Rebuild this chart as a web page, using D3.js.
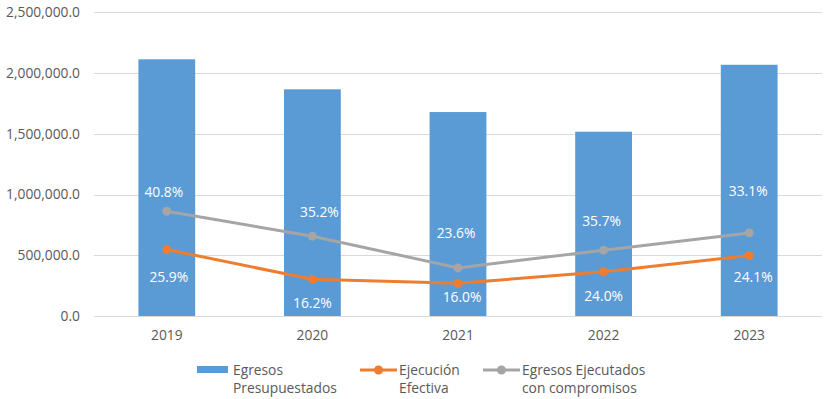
<!DOCTYPE html>
<html><head><meta charset="utf-8">
<script src="https://cdn.jsdelivr.net/npm/d3@7"></script>
<style>
html,body{margin:0;padding:0;background:#fff;}
svg{display:block;font-family:"Open Sans",sans-serif;}
</style></head>
<body><svg id="c" width="824" height="399"></svg>
<script>
const years = ["2019","2020","2021","2022","2023"];
const presupuestados = [2113000, 1866000, 1679000, 1517000, 2068000];
const ejecucionEfectiva = [547000, 302000, 269000, 364000, 498000];
const ejecutadosCompromisos = [862000, 657000, 396000, 542000, 684000];
const pctEfectiva = ["25.9%","16.2%","16.0%","24.0%","24.1%"];
const pctCompromisos = ["40.8%","35.2%","23.6%","35.7%","33.1%"];
const yTicks = [0, 500000, 1000000, 1500000, 2000000, 2500000];
const legendLabels = [["Egresos","Presupuestados"],["Ejecución","Efectiva"],["Egresos Ejecutados","con compromisos"]];

// label layout offsets (pixels, relative to points)
const grayLabelDy = [-19, -24, -35, -29, -42];
const grayLabelDx = [-3, 7, -2, -2, -1];
const orangeLabelDy = [28, 24, 14, 24, 22];
const orangeLabelDx = [2, 0, 4, 0, 4];

const colors = {bar:"#5b9bd5", orange:"#ed7d31", gray:"#a5a5a5", grid:"#d9d9d9", text:"#595959"};
const FS = 13.8;

const svg = d3.select("#c");
const mLeft = 94, mRight = 822, mTop = 12.3, mBottom = 316;

const x = d3.scaleBand().domain(years).range([mLeft, mRight]).paddingInner(0).paddingOuter(0);
const y = d3.scaleLinear().domain([0, 2500000]).range([mBottom, mTop]);
const barW = x.bandwidth() * 0.39;
const cx = d => x(d) + x.bandwidth()/2;

// gridlines
svg.append("g").selectAll("line").data(yTicks).join("line")
  .attr("x1", mLeft).attr("x2", mRight)
  .attr("y1", d => Math.round(y(d)) + 0.5).attr("y2", d => Math.round(y(d)) + 0.5)
  .attr("stroke", colors.grid).attr("stroke-width", 1);

// y axis labels
const fmt = d3.format(",.1f");
svg.append("g").selectAll("text").data(yTicks).join("text")
  .attr("x", 80).attr("y", d => y(d)).attr("dy", "0.35em")
  .attr("text-anchor", "end").attr("font-size", FS).attr("fill", colors.text)
  .text(d => fmt(d));

// bars
svg.append("g").selectAll("rect").data(presupuestados).join("rect")
  .attr("x", (d,i) => cx(years[i]) - barW/2)
  .attr("width", barW)
  .attr("y", d => y(d))
  .attr("height", d => y(0) - y(d))
  .attr("fill", colors.bar);

// x axis labels
svg.append("g").selectAll("text").data(years).join("text")
  .attr("x", d => cx(d)).attr("y", 335).attr("dy", "0.35em")
  .attr("text-anchor", "middle").attr("font-size", FS).attr("fill", colors.text)
  .text(d => d);

const line = d3.line().x((d,i) => cx(years[i])).y(d => y(d));

function series(vals, col) {
  const g = svg.append("g");
  g.append("path").datum(vals).attr("d", line).attr("fill", "none")
    .attr("stroke", col).attr("stroke-width", 3).attr("stroke-linejoin", "round");
  g.selectAll("circle").data(vals).join("circle")
    .attr("cx", (d,i) => cx(years[i])).attr("cy", d => y(d)).attr("r", 4.5).attr("fill", col);
}
series(ejecutadosCompromisos, colors.gray);
series(ejecucionEfectiva, colors.orange);

// data labels
svg.append("g").selectAll("text").data(pctCompromisos).join("text")
  .attr("x", (d,i) => cx(years[i]) + grayLabelDx[i])
  .attr("y", (d,i) => y(ejecutadosCompromisos[i]) + grayLabelDy[i]).attr("dy", "0.35em")
  .attr("text-anchor", "middle").attr("font-size", FS).attr("fill", "#fff").text(d => d);
svg.append("g").selectAll("text").data(pctEfectiva).join("text")
  .attr("x", (d,i) => cx(years[i]) + orangeLabelDx[i])
  .attr("y", (d,i) => y(ejecucionEfectiva[i]) + orangeLabelDy[i]).attr("dy", "0.35em")
  .attr("text-anchor", "middle").attr("font-size", FS).attr("fill", "#fff").text(d => d);

// legend
const lg = svg.append("g");
const legX = [197, 360, 483];
const legTextX = [233, 399, 522];
lg.append("rect").attr("x", legX[0]).attr("y", 366).attr("width", 31).attr("height", 7).attr("fill", colors.bar);
[[colors.orange,1],[colors.gray,2]].forEach(([c,i]) => {
  lg.append("line").attr("x1", legX[i]).attr("x2", legX[i]+37).attr("y1", 370).attr("y2", 370)
    .attr("stroke", c).attr("stroke-width", 3);
  lg.append("circle").attr("cx", legX[i]+18.5).attr("cy", 370).attr("r", 4.5).attr("fill", c);
});
legendLabels.forEach((lines, i) => {
  const t = lg.append("text").attr("x", legTextX[i]).attr("y", 370).attr("font-size", FS).attr("fill", colors.text);
  lines.forEach((s, j) => t.append("tspan").attr("x", legTextX[i]).attr("dy", j === 0 ? "0.35em" : 18).text(s));
});
</script></body></html>
